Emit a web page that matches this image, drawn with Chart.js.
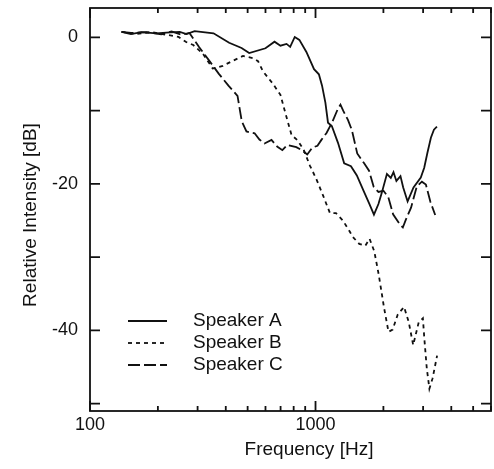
<!DOCTYPE html>
<html>
<head>
<meta charset="utf-8">
<script src="https://cdn.jsdelivr.net/npm/chart.js@4.4.0/dist/chart.umd.min.js"></script>
<style>
  html, body { margin: 0; padding: 0; background: #fff; }
</style>
</head>
<body>
<canvas id="chart" width="494" height="469"></canvas>
<script>
const seriesNames = ["Speaker A", "Speaker B", "Speaker C"];

const freqA = [138, 152, 169, 197, 218, 250, 268, 291, 353, 414, 470, 508, 600, 658, 699, 744, 772, 809, 848, 911, 985, 1035, 1069, 1106, 1136, 1181, 1258, 1340, 1436, 1525, 1634, 1731, 1816, 1901, 1960, 2073, 2157, 2217, 2284, 2381, 2448, 2561, 2720, 2930, 3034, 3135, 3248, 3350, 3455];
const dbA = [0.75, 0.45, 0.7, 0.55, 0.65, 0.75, 0.45, 0.85, 0.55, -0.75, -1.45, -2.15, -1.5, -0.6, -1.15, -0.9, -1.3, 0.05, -0.35, -2, -4.35, -5.05, -6.6, -8.9, -11.65, -12.1, -14.4, -17.2, -17.6, -18.85, -20.95, -22.7, -24.2, -22.75, -21.4, -18.65, -19.2, -18.4, -19.6, -18.95, -20.5, -22.4, -20.5, -19.15, -17.8, -15.75, -13.7, -12.6, -12.2];

const freqB = [138, 161, 187, 218, 247, 267, 287, 316, 350, 388, 430, 477, 529, 556, 585, 646, 699, 733, 754, 783, 832, 885, 944, 1012, 1082, 1159, 1232, 1322, 1418, 1460, 1563, 1662, 1737, 1822, 1906, 2013, 2107, 2198, 2314, 2470, 2590, 2711, 2868, 2993, 3042, 3115, 3199, 3304, 3460];
const dbB = [0.75, 0.45, 0.7, 0.35, 0.05, -0.65, -1.05, -2.2, -4.25, -3.9, -3.2, -2.55, -2.85, -3.25, -4.65, -6.3, -7.85, -10.2, -11.55, -13.35, -14.05, -15.3, -17.5, -19.45, -21.65, -24, -24, -25, -26.5, -27.2, -28.2, -28.45, -27.5, -29.2, -32.35, -36.9, -40.2, -39.9, -37.85, -36.8, -38.85, -42, -38.9, -38.35, -41.35, -45.2, -47.95, -46.55, -43.45];

const freqC = [138, 152, 178, 207, 230, 254, 276, 305, 337, 372, 411, 451, 463, 471, 494, 537, 564, 594, 638, 678, 713, 750, 822, 874, 919, 968, 1020, 1062, 1119, 1183, 1251, 1290, 1328, 1394, 1449, 1531, 1643, 1727, 1811, 1901, 2001, 2102, 2208, 2368, 2439, 2518, 2652, 2813, 2963, 3086, 3231, 3394];
const dbC = [0.75, 0.6, 0.7, 0.4, 0.8, 0.35, 0.6, -1.35, -3.15, -4.95, -6.6, -8, -10.1, -11.45, -12.85, -13.1, -13.95, -14.5, -14, -14.95, -15.4, -14.7, -15, -15.45, -16, -15.05, -14.8, -14, -13.05, -11.65, -9.9, -9.2, -10.05, -11.3, -12.65, -15.85, -17.2, -18.2, -20.4, -21.1, -20.95, -21.8, -24.15, -25.55, -25.95, -24.85, -23.25, -20.35, -19.7, -20.1, -22.45, -24.25];

const xTicks = [100, 200, 300, 400, 500, 600, 700, 800, 900, 1000, 2000, 3000, 4000, 5000, 6000];
const xLabels = [100, 1000];
const yTicks = [-50, -40, -30, -20, -10, 0];
const yLabels = [0, -20, -40];
const dashes = [[], [4, 4], [12, 4]];

const ink = "#111";
const font = '"Liberation Sans", Arial, sans-serif';

const toPoints = (fs, ds) => fs.map((f, i) => ({ x: f, y: ds[i] }));
const allSeries = [toPoints(freqA, dbA), toPoints(freqB, dbB), toPoints(freqC, dbC)];

const frame = {
  id: "frame",
  afterDatasetsDraw(chart) {
    const { ctx, chartArea: a, scales: { x, y } } = chart;
    ctx.save();
    ctx.strokeStyle = ink;
    ctx.lineWidth = 1.8;
    ctx.strokeRect(a.left, a.top, a.right - a.left, a.bottom - a.top);

    // inward ticks on all four sides
    ctx.beginPath();
    xTicks.forEach((v) => {
      const px = x.getPixelForValue(v);
      const len = xLabels.includes(v) ? 10 : 5;
      ctx.moveTo(px, a.bottom);
      ctx.lineTo(px, a.bottom - len);
      ctx.moveTo(px, a.top);
      ctx.lineTo(px, a.top + len);
    });
    yTicks.forEach((v) => {
      const py = y.getPixelForValue(v);
      ctx.moveTo(a.left, py);
      ctx.lineTo(a.left + 10, py);
      ctx.moveTo(a.right, py);
      ctx.lineTo(a.right - 10, py);
    });
    ctx.stroke();

    // axis titles
    ctx.fillStyle = ink;
    ctx.font = "19px " + font;
    ctx.textAlign = "center";
    ctx.textBaseline = "middle";
    ctx.fillText("Frequency [Hz]", 309, 450);
    ctx.save();
    ctx.translate(31, 215);
    ctx.rotate(-Math.PI / 2);
    ctx.fillText("Relative Intensity [dB]", 0, 0);
    ctx.restore();

    // legend inside the plot, lower left
    ctx.textAlign = "left";
    chart.data.datasets.forEach((ds, i) => {
      const ly = 321 + i * 22;
      ctx.beginPath();
      ctx.setLineDash(ds.borderDash);
      ctx.lineWidth = 1.8;
      ctx.moveTo(128, ly);
      ctx.lineTo(167, ly);
      ctx.stroke();
      ctx.setLineDash([]);
      ctx.fillText(ds.label, 193, ly);
    });
    ctx.restore();
  },
};

new Chart("chart", {
  type: "line",
  data: {
    datasets: allSeries.map((pts, i) => ({
      label: seriesNames[i],
      data: pts,
      borderColor: ink,
      borderWidth: 1.8,
      borderDash: dashes[i],
      pointRadius: 0,
      tension: 0,
      fill: false,
    })),
  },
  options: {
    responsive: false,
    animation: false,
    layout: { padding: { top: 8, right: 3, left: 0, bottom: 0 } },
    plugins: { legend: { display: false }, tooltip: { enabled: false } },
    scales: {
      x: {
        type: "logarithmic",
        min: 100,
        max: 6000,
        grid: { display: false, drawTicks: false },
        border: { display: false },
        afterBuildTicks: (s) => { s.ticks = xTicks.map((v) => ({ value: v })); },
        afterFit: (s) => { s.height = 58; s.paddingLeft = 0; s.paddingRight = 0; },
        ticks: {
          autoSkip: false,
          maxRotation: 0,
          padding: 3,
          color: ink,
          font: { size: 18, family: font },
          callback: (v) => (xLabels.includes(v) ? String(v) : ""),
        },
      },
      y: {
        min: -51,
        max: 4,
        grid: { display: false, drawTicks: false },
        border: { display: false },
        afterBuildTicks: (s) => { s.ticks = yTicks.map((v) => ({ value: v })); },
        afterFit: (s) => { s.width = 90; s.paddingTop = 0; s.paddingBottom = 0; },
        ticks: {
          padding: 12,
          color: ink,
          font: { size: 18, family: font },
          callback: (v) => (yLabels.includes(v) ? String(v) : ""),
        },
      },
    },
  },
  plugins: [frame],
});
</script>
</body>
</html>
